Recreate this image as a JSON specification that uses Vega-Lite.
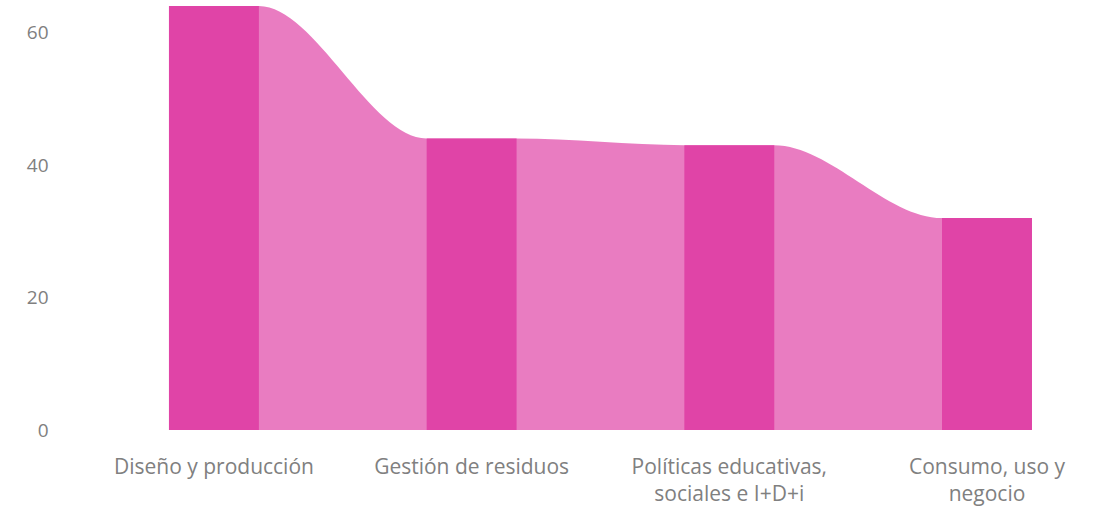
{
  "$schema": "https://vega.github.io/schema/vega-lite/v6.json",
  "width": 1031,
  "height": 424,
  "padding": {"left": 26, "top": 6, "right": 0, "bottom": 10},
  "autosize": {"type": "pad"},
  "config": {
    "view": {"stroke": null},
    "font": "Open Sans",
    "axis": {
      "labelFont": "Open Sans",
      "labelFontSize": 19,
      "labelColor": "#808080",
      "labelLimit": 0,
      "domain": false,
      "ticks": false,
      "tickSize": 0,
      "grid": false,
      "title": null
    }
  },
  "datasets": {
    "barras": [
      {"categoria": "Diseño y producción", "valor": 64},
      {"categoria": "Gestión de residuos", "valor": 44},
      {"categoria": "Políticas educativas, sociales e I+D+i", "valor": 43},
      {"categoria": "Consumo, uso y negocio", "valor": 32}
    ],
    "cinta": [
      {"categoria": "Diseño y producción", "lado": "izq", "valor": 64},
      {"categoria": "Diseño y producción", "lado": "der", "valor": 64},
      {"categoria": "Gestión de residuos", "lado": "izq", "valor": 44},
      {"categoria": "Gestión de residuos", "lado": "der", "valor": 44},
      {"categoria": "Políticas educativas, sociales e I+D+i", "lado": "izq", "valor": 43},
      {"categoria": "Políticas educativas, sociales e I+D+i", "lado": "der", "valor": 43},
      {"categoria": "Consumo, uso y negocio", "lado": "izq", "valor": 32},
      {"categoria": "Consumo, uso y negocio", "lado": "der", "valor": 32}
    ]
  },
  "encoding": {
    "x": {
      "field": "categoria",
      "type": "nominal",
      "sort": ["Diseño y producción", "Gestión de residuos", "Políticas educativas, sociales e I+D+i", "Consumo, uso y negocio"],
      "scale": {"paddingInner": 0.651, "paddingOuter": 0.326, "align": 0.595},
      "axis": {
        "labelAngle": 0,
        "labelFontSize": 21,
        "labelPadding": 26,
        "labelLineHeight": 27,
        "labelBaseline": "top",
        "labelExpr": "datum.label == 'Políticas educativas, sociales e I+D+i' ? ['Políticas educativas,', 'sociales e I+D+i'] : datum.label == 'Consumo, uso y negocio' ? ['Consumo, uso y', 'negocio'] : datum.label"
      }
    },
    "y": {
      "field": "valor",
      "type": "quantitative",
      "scale": {"domain": [0, 64], "nice": false},
      "axis": {"values": [0, 20, 40, 60], "labelPadding": 21}
    }
  },
  "resolve": {"scale": {"xOffset": "independent"}},
  "layer": [
    {
      "data": {"name": "cinta"},
      "mark": {"type": "area", "interpolate": "monotone", "color": "#E044A7", "opacity": 0.7},
      "encoding": {
        "xOffset": {
          "field": "lado",
          "type": "nominal",
          "sort": ["izq", "der"],
          "scale": {"type": "point", "padding": 0}
        },
        "order": {"value": null}
      }
    },
    {
      "data": {"name": "barras"},
      "mark": {"type": "bar", "color": "#E044A7"}
    }
  ]
}
